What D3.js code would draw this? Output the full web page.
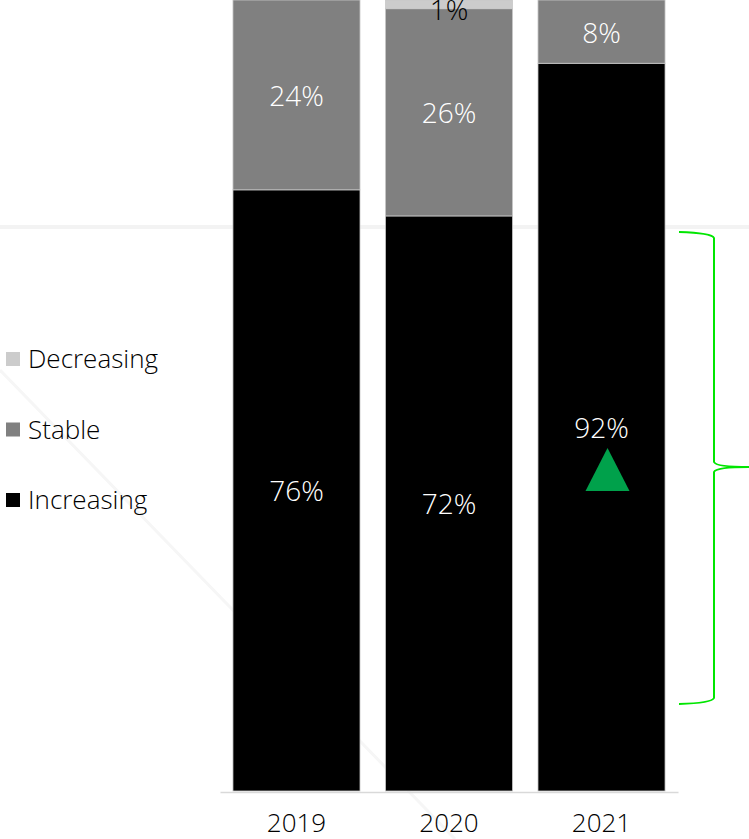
<!DOCTYPE html>
<html>
<head>
<meta charset="utf-8">
<script src="https://cdn.jsdelivr.net/npm/d3@7"></script>
<style>
  html, body { margin: 0; padding: 0; background: #fff; }
  svg { display: block; font-family: "Open Sans", sans-serif; }
</style>
</head>
<body>
<svg id="chart" width="749" height="839"></svg>
<script>
// data
const years = ['2019', '2020', '2021']
const seriesNames = ['Increasing', 'Stable', 'Decreasing']
const increasing = [76, 72.7, 92]
const stable = [24, 26.2, 8]
const decreasing = [0, 1.1, 0]
const increasingLabels = ['76%', '72%', '92%']
const stableLabels = ['24%', '26%', '8%']
const decreasingLabels = ['', '1%', '']
const legendOrder = ['Decreasing', 'Stable', 'Increasing']

const svg = d3.select('#chart')

// faint slide artefacts in the background
svg.append('line')
  .attr('x1', 0).attr('x2', 749).attr('y1', 227).attr('y2', 227)
  .attr('stroke', '#f3f3f3').attr('stroke-width', 4)
svg.append('line')
  .attr('x1', 0).attr('y1', 370).attr('x2', 455).attr('y2', 839)
  .attr('stroke', '#f6f6f6').attr('stroke-width', 3)

const color = d3.scaleOrdinal().domain(seriesNames).range(['#000000', '#808080', '#cccccc'])

const x = d3.scaleBand()
  .domain(years)
  .range([220, 678])
  .paddingInner(0.167)
  .paddingOuter(0.085)

const y = d3.scaleLinear().domain([0, 100]).range([791, 0])

const rows = years.map((yr, i) => ({
  year: yr,
  Increasing: increasing[i],
  Stable: stable[i],
  Decreasing: decreasing[i],
  labels: { Increasing: increasingLabels[i], Stable: stableLabels[i], Decreasing: decreasingLabels[i] }
}))

const stacked = d3.stack().keys(seriesNames)(rows)

// bars
const layer = svg.append('g').selectAll('g')
  .data(stacked)
  .enter()
  .append('g')
  .attr('fill', (d) => color(d.key))

layer.selectAll('rect')
  .data((d) => d.map((v) => Object.assign(v, { key: d.key })))
  .enter()
  .append('rect')
  .filter((d) => d[1] - d[0] > 0)
  .attr('x', (d) => x(d.data.year))
  .attr('y', (d) => y(d[1]))
  .attr('width', x.bandwidth())
  .attr('height', (d) => y(d[0]) - y(d[1]))
  .attr('stroke', '#c8c8c8')
  .attr('stroke-width', 0.8)

// value labels
stacked.forEach((s) => {
  svg.append('g').selectAll('text')
    .data(s.filter((d) => d.data.labels[s.key] !== ''))
    .enter()
    .append('text')
    .attr('x', (d) => x(d.data.year) + x.bandwidth() / 2)
    .attr('y', (d) => s.key === 'Decreasing' ? y(d[1]) + 20 : (y(d[0]) + y(d[1])) / 2 + 11)
    .attr('text-anchor', 'middle')
    .attr('font-size', 28)
    .attr('font-weight', 300)
    .attr('fill', s.key === 'Decreasing' ? '#000' : '#fff')
    .text((d) => d.data.labels[s.key])
})

// green up-arrow under the 2021 label
const cx = x('2021') + x.bandwidth() / 2 + 6
svg.append('path')
  .attr('d', d3.line()([[cx, 448], [cx + 22, 491], [cx - 22, 491]]) + 'Z')
  .attr('fill', '#00a14b')

// axis baseline and year labels
const xAxis = svg.append('g')
  .attr('transform', 'translate(0,792)')
  .call(d3.axisBottom(x).tickSize(0).tickPadding(22))
xAxis.select('.domain').attr('stroke', '#d9d9d9').attr('stroke-width', 1.5)
xAxis.selectAll('text')
  .attr('font-family', '"Open Sans", sans-serif')
  .attr('font-size', 26)
  .attr('font-weight', 300)
  .attr('fill', '#000')

// legend
const legend = svg.append('g').attr('transform', 'translate(6,0)')
legend.selectAll('rect')
  .data(legendOrder)
  .enter()
  .append('rect')
  .attr('x', 0)
  .attr('y', (d, i) => 352 + i * 70.5)
  .attr('width', 14)
  .attr('height', 14)
  .attr('fill', color)
legend.selectAll('text')
  .data(legendOrder)
  .enter()
  .append('text')
  .attr('x', 22)
  .attr('y', (d, i) => 359 + i * 70.5)
  .attr('dy', '0.35em')
  .attr('font-size', 26)
  .attr('font-weight', 300)
  .attr('fill', '#000')
  .text((d) => d)

// green brace on the right
svg.append('path')
  .attr('d', 'M679,232 Q712,233 714,238 L714,462 Q716,467 749,467 Q716,467 714,472 L714,698 Q712,703 679,704')
  .attr('fill', 'none')
  .attr('stroke', '#00e600')
  .attr('stroke-width', 2)
</script>
</body>
</html>
